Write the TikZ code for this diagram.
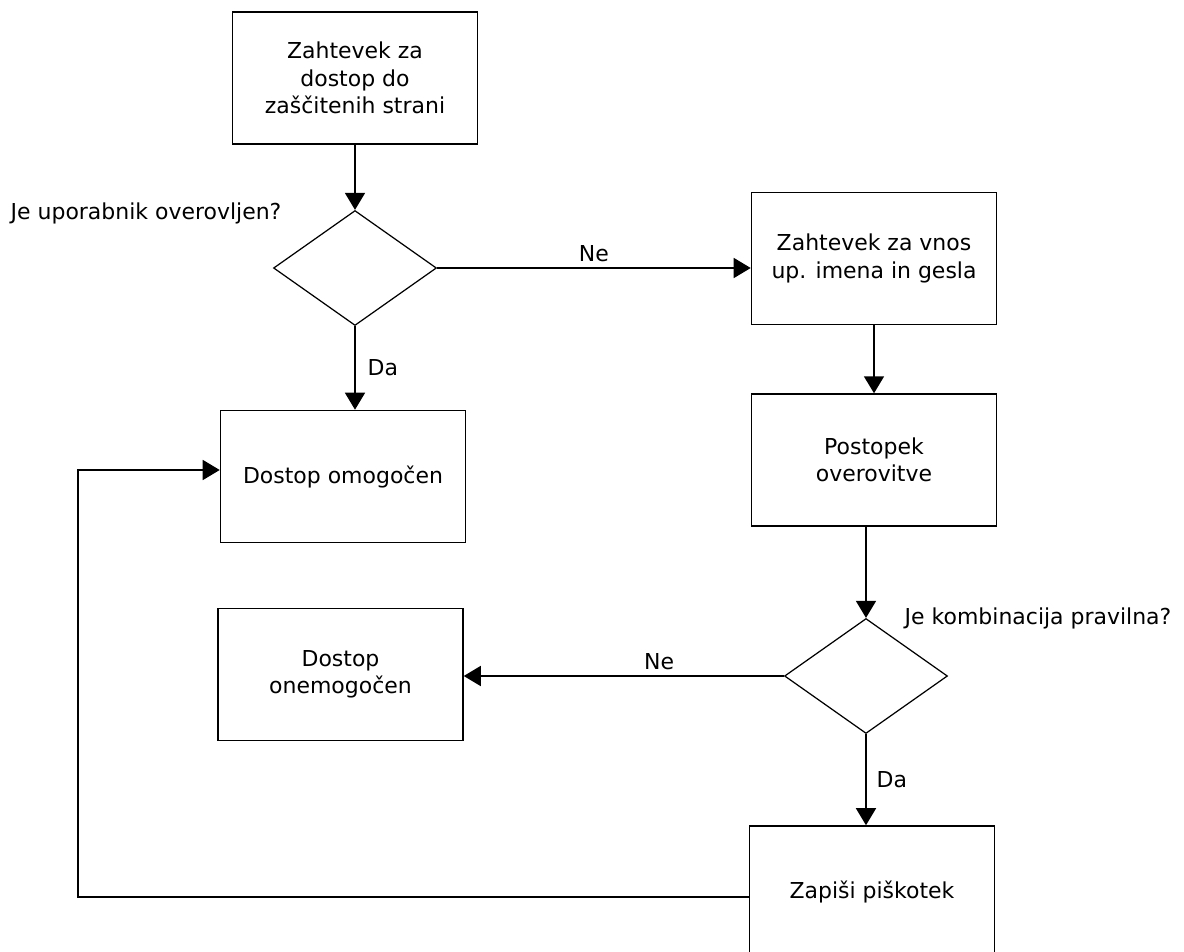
\documentclass[tikz,border=0pt]{standalone}
\usepackage{fontspec}
\setmainfont{DejaVu Sans}
\usetikzlibrary{arrows.meta, shapes.geometric, positioning}

\begin{document}
\begin{tikzpicture}[x=0.02cm, y=-0.02cm,
  every node/.style={font=\fontsize{12.5}{15.5}\selectfont},
  box/.style={draw, line width=0.9pt, minimum width=4.9cm, minimum height=2.64cm, align=center, inner sep=0pt},
  decision/.style={draw, diamond, line width=0.7pt, minimum width=3.26cm, minimum height=2.3cm, inner sep=0pt},
  flow/.style={-{Triangle[width=0.4cm, length=0.34cm]}, line width=0.9pt}]
  \useasboundingbox (0,0) rectangle (1184,951);

  \node[box]      (request) at (355,78)    {Zahtevek za\\dostop do\\zaščitenih strani};
  \node[decision] (auth)    at (355,268)   {};
  \node[box]      (prompt)  at (874,258.5) {Zahtevek za vnos\\up. imena in gesla};
  \node[box]      (verify)  [below=1.36cm of prompt] {Postopek\\overovitve};
  \node[decision] (valid)   at (866,676)   {};
  \node[box]      (granted) at (343,476.5) {Dostop omogočen};
  \node[box]      (denied)  at (340.5,674.5) {Dostop\\onemogočen};
  \node[box]      (cookie)  at (872,892)   {Zapiši piškotek};

  \node (q1) at (146,213)  {Je uporabnik overovljen?};
  \node (q2) at (1038,618) {Je kombinacija pravilna?};

  \coordinate (back1) at (78,897);
  \coordinate (back2) at (78,470);

  \draw[flow] (request.south) -- (auth.north);
  \draw[flow] (auth.east) -- node[above] {Ne} (auth.east -| prompt.west);
  \draw[flow] (auth.south) -- node[right, xshift=0.12cm] {Da} (auth.south |- granted.north);
  \draw[flow] (prompt) -- (verify);
  \draw[flow] (verify.south -| valid.north) -- (valid.north);
  \draw[flow] (valid.west) -- node[above, pos=0.39] {Ne} (valid.west -| denied.east);
  \draw[flow] (valid.south) -- node[right, xshift=0.08cm] {Da} (valid.south |- cookie.north);
  \draw[flow] (cookie.west |- back1) -- (back1) -- (back2) -- (back2 -| granted.west);
\end{tikzpicture}
\end{document}
